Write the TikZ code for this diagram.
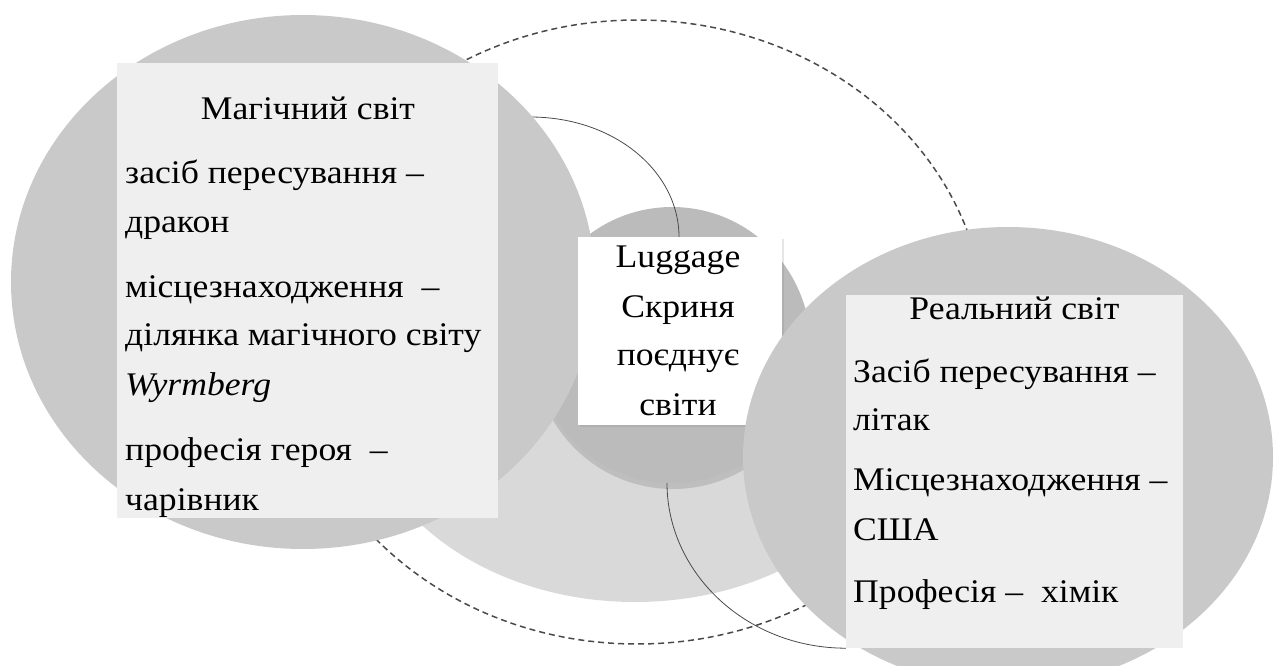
\documentclass[tikz,border=0pt]{standalone}
\usepackage{fontspec}
\setmainfont{Liberation Serif}[FakeStretch=1.08]
\usetikzlibrary{shadows}
\definecolor{worldgray}{HTML}{C9C9C9}
\definecolor{ringgray}{HTML}{D9D9D9}
\definecolor{chestgray}{HTML}{BBBBBB}
\definecolor{panelgray}{HTML}{EFEFEF}
\definecolor{dashgray}{HTML}{4A4A4A}
\tikzset{
  panel/.style={fill=panelgray, inner sep=0pt},
  chestbox/.style={fill=white, inner sep=0pt},
  worldtitle/.style={anchor=base, inner sep=0pt},
  worldtext/.style={anchor=base west, inner sep=0pt},
  arcline/.style={draw=dashgray, line width=0.8pt},
}
\begin{document}
\begin{tikzpicture}[x=1pt,y=-1pt,font=\fontsize{33}{40}\selectfont]
\useasboundingbox (0,0) rectangle (1275,666);
\clip (0,0) rectangle (1275,666);
% outer dashed ring
\draw[dashgray, line width=1.5pt, dash pattern=on 6pt off 4pt] (637,332) ellipse [x radius=349pt, y radius=312pt];
% light ring under the chest
\begin{scope}
\clip (300,330) rectangle (900,666);
\fill[ringgray] (635,385) ellipse [x radius=279pt, y radius=217pt];
\end{scope}
% chest circle
\fill[black, opacity=0.12] (673,350) circle [radius=139pt];
\fill[chestgray] (672,345) circle [radius=138pt];
\coordinate (magedge) at (530,117);
\coordinate (chestbottom) at (667,483);
\coordinate (chesttop) at (679,237);
\draw[arcline] (magedge) .. controls (615,117) and (679,172) .. (chesttop);
% magic world
\fill[worldgray] (303,282) ellipse [x radius=292pt, y radius=267pt];
\node[panel, minimum width=381pt, minimum height=455pt] (magpanel) at (307.5,290.5) {};
\node[worldtitle] (magtitle) at (308,120) {Магічний світ};
\foreach \n/\y/\t in {1/183/засіб пересування –, 2/232/дракон, 3/297/місцезнаходження\ \ –,
  4/345/ділянка магічного світу, 5/395/{\itshape Wyrmberg}, 6/460/професія героя\ \ –, 7/510/чарівник}
  \node[worldtext] (mag\n) at (125,\y) {\t};
% chest box
\node[chestbox, minimum width=204pt, minimum height=188pt,
  drop shadow={shadow xshift=2pt, shadow yshift=-2pt, opacity=0.2}] (chest) at (680,331) {};
\node[worldtitle] (chest1) at (678,267) {Luggage};
\node[worldtitle] (chest2) at (678,317) {Скриня};
\node[worldtitle] (chest3) at (678,365) {поєднує};
\node[worldtitle] (chest4) at (678,415) {світи};
% real world
\node[inner sep=0pt, minimum width=337pt, minimum height=353pt] (realpanel) at (1014.5,471.5) {};
\draw[arcline] (chestbottom) .. controls (667,572) and (745,648) .. (realpanel.south west);
\fill[worldgray] (1008,457) ellipse [x radius=265pt, y radius=230pt];
\fill[panelgray] (realpanel.south west) rectangle (realpanel.north east);
\node[worldtitle] (realtitle) at (1014.5,319) {Реальний світ};
\foreach \n/\y/\t in {1/382/Засіб пересування –, 2/430/літак, 3/490/Місцезнаходження –,
  4/540/США, 5/602/Професія –\ \ хімік}
  \node[worldtext] (real\n) at (853,\y) {\t};
\end{tikzpicture}
\end{document}
